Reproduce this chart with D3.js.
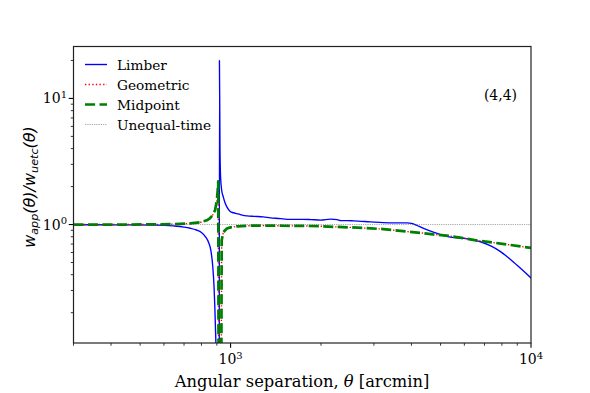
<!DOCTYPE html>
<html>
<head>
<meta charset="utf-8">
<script src="https://cdn.jsdelivr.net/npm/d3@7"></script>
<style>
  html, body { margin: 0; padding: 0; background: #fff; }
  svg { display: block; }
</style>
</head>
<body>
<svg id="chart" width="590" height="393"></svg>
<script>
// ---------------- data ----------------
const limberTheta = [300, 367, 463, 565, 644, 700, 734, 770, 800, 825, 845, 860, 872, 881, 890, 895, 915, 918, 922, 926, 934, 946, 959, 972, 997, 1022, 1049, 1077, 1134, 1199, 1284, 1357, 1464, 1542, 1663, 1747, 1850, 1993, 2150, 2264, 2324, 2450, 2564, 2918, 3222, 3500, 3870, 4000, 4150, 4350, 4730, 5100, 5390, 6140, 6785, 7400, 7915, 8990, 10000];
const limberValues = [0.995, 0.995, 0.993, 0.99, 0.975, 0.955, 0.935, 0.905, 0.865, 0.8, 0.72, 0.62, 0.47, 0.32, 0.16, 0.09, -1, 20, 4, 2.4, 1.87, 1.65, 1.48, 1.38, 1.27, 1.24, 1.22, 1.2, 1.17, 1.16, 1.15, 1.13, 1.115, 1.1, 1.1, 1.1, 1.095, 1.085, 1.105, 1.095, 1.075, 1.075, 1.07, 1.05, 1.035, 1.03, 1.03, 1.02, 0.99, 0.94, 0.87, 0.82, 0.795, 0.77, 0.73, 0.67, 0.61, 0.475, 0.377];

const geoTheta = [300, 463, 565, 644, 734, 792, 833, 853, 870, 888, 900, 905, 910, 919, 934, 946, 972, 1000, 1049, 1134, 1300, 1500, 1747, 1993, 2200, 2500, 2846, 3222, 3675, 4280, 4730, 5390, 6140, 6785, 7915, 10000];
const geoValues = [1.0, 1.0, 1.002, 1.008, 1.02, 1.04, 1.08, 1.12, 1.18, 1.3, 1.55, 1.8, 2.2, -1, 0.75, 0.87, 0.93, 0.95, 0.967, 0.978, 0.98, 0.978, 0.975, 0.97, 0.96, 0.95, 0.935, 0.92, 0.89, 0.86, 0.835, 0.81, 0.77, 0.74, 0.707, 0.652];

const midTheta = [300, 463, 565, 644, 734, 792, 833, 853, 870, 888, 900, 905, 910, 919, 934, 946, 972, 1000, 1049, 1134, 1300, 1500, 1747, 1993, 2200, 2500, 2846, 3222, 3675, 4280, 4730, 5390, 6140, 6785, 7915, 10000];
const midValues = [1.0, 1.0, 1.002, 1.008, 1.02, 1.04, 1.08, 1.12, 1.18, 1.3, 1.55, 1.8, 2.2, -1, 0.75, 0.87, 0.93, 0.95, 0.967, 0.978, 0.98, 0.978, 0.975, 0.97, 0.96, 0.95, 0.935, 0.92, 0.89, 0.86, 0.835, 0.81, 0.77, 0.74, 0.707, 0.652];

const uetcTheta = [300, 10000];
const uetcValues = [1, 1];

const seriesNames = ["Limber", "Geometric", "Midpoint", "Unequal-time"];
const xMajorTicks = [1000, 10000];
const xTickExponents = ["3", "4"];
const yMajorTicks = [1, 10];
const yTickExponents = ["0", "1"];
const annotation = "(4,4)";
const xDomain = [300, 10000];
const yDomain = [0.115, 25.8];

// ---------------- drawing ----------------
const svg = d3.select("#chart");
const plot = { left: 73.5, right: 531, top: 46.5, bottom: 343 };

const x = d3.scaleLog().domain(xDomain).range([plot.left, plot.right]);
const y = d3.scaleLog().domain(yDomain).range([plot.bottom, plot.top]);

svg.append("defs").append("clipPath").attr("id", "clip")
  .append("rect")
  .attr("x", plot.left).attr("y", plot.top)
  .attr("width", plot.right - plot.left).attr("height", plot.bottom - plot.top);

// non-positive values are clipped far below the axis (like a log-scale clip)
const clipVal = v => (v > 0 ? v : 1e-6);
const line = d3.line().x(d => x(d[0])).y(d => y(clipVal(d[1])));
const zipS = (a, b) => a.map((t, i) => [t, b[i]]);

const g = svg.append("g").attr("clip-path", "url(#clip)");

const styles = [
  { stroke: "#0000ff", width: 1.37, dash: null },
  { stroke: "#ff0000", width: 1.37, dash: "1.37,2.25" },
  { stroke: "#008000", width: 2.73, dash: "10.1,4.4" },
  { stroke: "#444444", width: 0.68, dash: "0.68,1.13" }
];
const data = [
  zipS(limberTheta, limberValues),
  zipS(geoTheta, geoValues),
  zipS(midTheta, midValues),
  zipS(uetcTheta, uetcValues)
];

data.forEach((d, i) => {
  g.append("path")
    .datum(d)
    .attr("d", line.curve(i === 0 ? d3.curveMonotoneX : d3.curveLinear))
    .attr("fill", "none")
    .attr("stroke", styles[i].stroke)
    .attr("stroke-width", styles[i].width)
    .attr("stroke-dasharray", styles[i].dash)
    .attr("stroke-linejoin", "round")
    .attr("stroke-linecap", i === 0 ? "square" : "butt");
});

// ---------------- axes ----------------
const tickColor = "#000";
const xAxis = svg.append("g").attr("transform", `translate(0,${plot.bottom})`);
const xMinor = [];
[100, 1000].forEach(dec => { for (let k = 2; k <= 9; k++) { const v = dec * k; if (v >= xDomain[0] && v <= xDomain[1] && v !== 1000) xMinor.push(v); } });
xAxis.selectAll("line.minor").data(xMinor).enter().append("line")
  .attr("x1", d => x(d)).attr("x2", d => x(d)).attr("y1", 0).attr("y2", 2.7)
  .attr("stroke", tickColor).attr("stroke-width", 0.8);
xAxis.selectAll("line.major").data(xMajorTicks).enter().append("line")
  .attr("x1", d => x(d)).attr("x2", d => x(d)).attr("y1", 0).attr("y2", 4.8)
  .attr("stroke", tickColor).attr("stroke-width", 1.1);
const xLab = xAxis.selectAll("text.tl").data(xMajorTicks).enter().append("text")
  .attr("x", d => x(d)).attr("y", 21)
  .attr("text-anchor", "middle")
  .attr("font-family", "DejaVu Serif").attr("font-size", 14);
xLab.append("tspan").text("10");
xLab.append("tspan").attr("dy", -5.5).attr("font-size", 10).text((d, i) => xTickExponents[i]);

const yAxis = svg.append("g").attr("transform", `translate(${plot.left},0)`);
const yMinor = [];
[0.1, 1, 10].forEach(dec => { for (let k = 2; k <= 9; k++) { const v = dec * k; if (v >= yDomain[0] && v <= yDomain[1]) yMinor.push(v); } });
yAxis.selectAll("line.minor").data(yMinor).enter().append("line")
  .attr("y1", d => y(d)).attr("y2", d => y(d)).attr("x1", 0).attr("x2", -2.7)
  .attr("stroke", tickColor).attr("stroke-width", 0.8);
yAxis.selectAll("line.major").data(yMajorTicks).enter().append("line")
  .attr("y1", d => y(d)).attr("y2", d => y(d)).attr("x1", 0).attr("x2", -4.8)
  .attr("stroke", tickColor).attr("stroke-width", 1.1);
const yLab = yAxis.selectAll("text.tl").data(yMajorTicks).enter().append("text")
  .attr("x", -6.5).attr("y", d => y(d) + 5)
  .attr("text-anchor", "end")
  .attr("font-family", "DejaVu Serif").attr("font-size", 14);
yLab.append("tspan").text("10");
yLab.append("tspan").attr("dy", -5.5).attr("font-size", 10).text((d, i) => yTickExponents[i]);

// frame
svg.append("rect")
  .attr("x", plot.left).attr("y", plot.top)
  .attr("width", plot.right - plot.left).attr("height", plot.bottom - plot.top)
  .attr("fill", "none").attr("stroke", "#222").attr("stroke-width", 1.2);

// axis labels
const xl = svg.append("text")
  .attr("x", 302).attr("y", 387)
  .attr("text-anchor", "middle")
  .attr("font-family", "DejaVu Serif").attr("font-size", 16.3);
xl.append("tspan").text("Angular separation, ");
xl.append("tspan").attr("font-style", "italic").text("θ");
xl.append("tspan").text(" [arcmin]");

const yl = svg.append("text")
  .attr("transform", `translate(35,187) rotate(-90)`)
  .attr("text-anchor", "middle")
  .attr("font-family", "DejaVu Sans").attr("font-style", "italic").attr("font-size", 16);
yl.append("tspan").text("w");
yl.append("tspan").attr("font-size", 11.2).attr("dy", 3).text("app");
yl.append("tspan").attr("dy", -3).text("(θ)/w");
yl.append("tspan").attr("font-size", 11.2).attr("dy", 3).text("uetc");
yl.append("tspan").attr("dy", -3).text("(θ)");

// annotation
svg.append("text")
  .attr("x", 500.5).attr("y", 100)
  .attr("text-anchor", "middle")
  .attr("font-family", "DejaVu Serif").attr("font-size", 14)
  .text(annotation);

// legend
const legend = svg.append("g");
seriesNames.forEach((name, i) => {
  const yy = 64.5 + i * 20;
  legend.append("line")
    .attr("x1", 85).attr("x2", 107).attr("y1", yy).attr("y2", yy)
    .attr("stroke", styles[i].stroke).attr("stroke-width", styles[i].width)
    .attr("stroke-dasharray", styles[i].dash);
  legend.append("text")
    .attr("x", 117).attr("y", yy + 5)
    .attr("font-family", "DejaVu Serif").attr("font-size", 13.7)
    .text(name);
});
</script>
</body>
</html>
